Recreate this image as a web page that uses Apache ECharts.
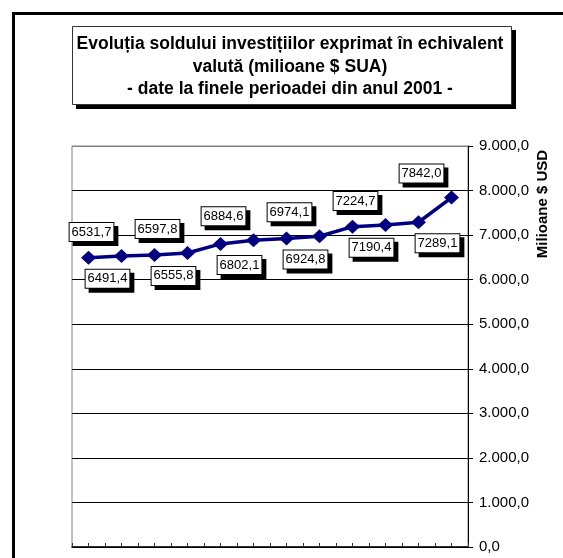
<!DOCTYPE html>
<html>
<head>
<meta charset="utf-8">
<script src="https://cdn.jsdelivr.net/npm/echarts@6/dist/echarts.min.js"></script>
<style>html,body{margin:0;padding:0;background:#fff;}#c{width:563px;height:558px;}</style>
</head>
<body>
<div id="c"></div>
<script>
const categories = ['Ian','Feb','Mar','Apr','Mai','Iun','Iul','Aug','Sep','Oct','Noi','Dec'];
const values = [6491.4, 6531.7, 6555.8, 6597.8, 6802.1, 6884.6, 6924.8, 6974.1, 7190.4, 7224.7, 7289.1, 7842.0];
const yMin = 0, yMax = 9000, yStep = 1000;
const titleLines = [
  'Evoluția soldului investițiilor exprimat în echivalent',
  'valută (milioane $ SUA)',
  '- date la finele perioadei din anul 2001 -'
];
const yName = 'Milioane $ USD';

const fmtAxis = v => {
  const s = v.toFixed(1).split('.');
  return s[0].replace(/\B(?=(\d{3})+(?!\d))/g, '.') + ',' + s[1];
};
const fmtLabel = v => v.toFixed(1).replace('.', ',');
const minorCats = [];
for (let i = 0; i < categories.length * 2; i++) minorCats.push(String(i));

const chart = echarts.init(document.getElementById('c'), null, {renderer: 'canvas'});
const font = 'Arial, "Liberation Sans", sans-serif';
chart.setOption({
  backgroundColor: '#fff',
  animation: false,
  title: {
    text: titleLines.join('\n'),
    left: 290, top: 33,
    textAlign: 'center',
    padding: 0,
    z: 10,
    textStyle: {
      fontFamily: font, fontSize: 17.5, fontWeight: 'bold', color: '#000',
      lineHeight: 22.5
    }
  },
  graphic: [
    {type: 'rect', z: -1, shape: {x: 13.5, y: 13.5, width: 700, height: 700}, style: {fill: 'none', stroke: '#000', lineWidth: 3}},
    {type: 'rect', z: 1, shape: {x: 76, y: 30, width: 440, height: 79}, style: {fill: '#000'}},
    {type: 'rect', z: 2, shape: {x: 72.5, y: 26.5, width: 439, height: 78}, style: {fill: '#fff', stroke: '#333', lineWidth: 1}},
    {type: 'text', x: 543, y: 204, rotation: Math.PI / 2,
     style: {text: yName, font: 'bold 15px ' + font, fill: '#000', align: 'center', verticalAlign: 'middle'}}
  ],
  grid: {left: 72, right: 95, top: 146, bottom: 11, show: true, borderColor: '#808080', borderWidth: 1},
  xAxis: [
    {type: 'category', data: categories, boundaryGap: true, show: false},
    {type: 'category', data: minorCats, boundaryGap: true, position: 'bottom',
     axisLine: {show: true, lineStyle: {color: '#000', width: 1.5}},
     axisTick: {show: true, interval: 0, inside: true, length: 4, lineStyle: {color: '#333'}},
     axisLabel: {show: false}, splitLine: {show: false}}
  ],
  yAxis: {
    type: 'value', position: 'right', min: yMin, max: yMax, interval: yStep,
    axisLine: {show: true, lineStyle: {color: '#000', width: 1}},
    axisTick: {show: true, inside: false, length: 5, lineStyle: {color: '#000'}},
    axisLabel: {formatter: fmtAxis, fontFamily: font, fontSize: 15, color: '#000', margin: 11},
    splitLine: {show: true, lineStyle: {color: ['#000','#000','#000','#000','#000','#000','#000','#000','#000','#808080'], width: 1}}
  },
  series: [{
    type: 'line',
    xAxisIndex: 0,
    data: values.map((v, i) => ({
      value: v,
      label: {offset: i % 2 === 0 ? [19, 21] : [-30, -24]}
    })),
    lineStyle: {color: '#000080', width: 3.5},
    itemStyle: {color: '#000080'},
    symbol: 'diamond',
    symbolSize: [15, 14],
    label: {
      show: true, position: 'inside',
      formatter: p => fmtLabel(p.value),
      fontFamily: font, fontSize: 13, color: '#000',
      backgroundColor: '#fff', borderColor: '#000', borderWidth: 1,
      padding: [3, 2, 2, 2],
      shadowColor: '#000', shadowOffsetX: 4, shadowOffsetY: 4, shadowBlur: 0
    }
  }]
});
</script>
</body>
</html>
